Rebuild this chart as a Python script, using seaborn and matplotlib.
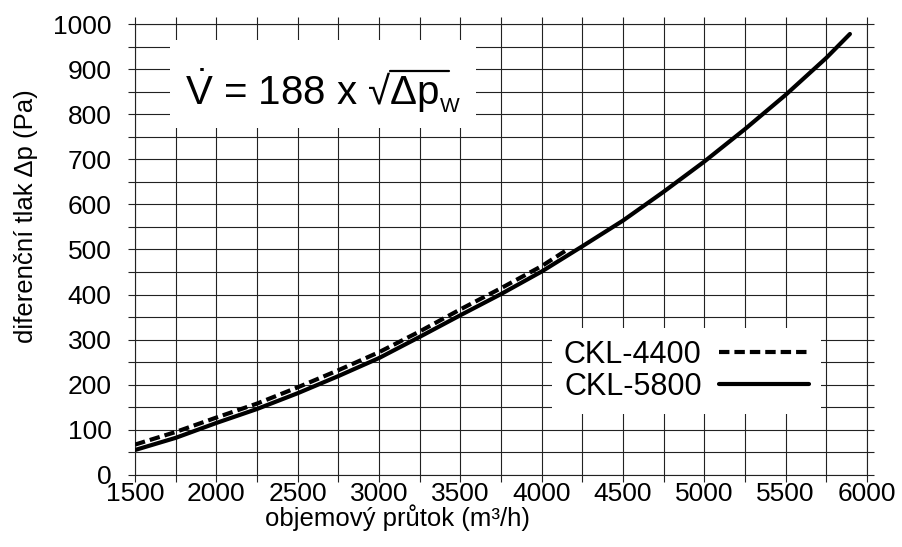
import numpy as np
import pandas as pd
import matplotlib
matplotlib.use("Agg")
import matplotlib.pyplot as plt
import seaborn as sns
from matplotlib.patches import Rectangle
from matplotlib.lines import Line2D
from matplotlib.transforms import IdentityTransform
from matplotlib.ticker import MultipleLocator

# values
flow_5800 = [1500, 1750, 2000, 2250, 2500, 2750, 3000, 3250, 3500, 3750,
             4000, 4250, 4500, 4750, 5000, 5250, 5500, 5750, 5895]
dp_5800 = [55, 82, 115, 146, 181, 219, 259, 306, 354, 401,
           451, 507, 564, 628, 695, 767, 843, 925, 978]

flow_4400 = [1500, 1750, 2000, 2250, 2500, 2750, 3000, 3250, 3500, 3750, 4000, 4155]
dp_4400 = [67, 95, 127, 158, 194, 232, 272, 318, 367, 414, 463, 499]

labels = ["CKL-4400", "CKL-5800"]

sns.set_theme(style="white")
plt.rcParams["font.family"] = ["Liberation Sans", "DejaVu Sans"]
plt.rcParams["mathtext.fontset"] = "custom"
plt.rcParams["mathtext.rm"] = "Liberation Sans"
for k in ["text.color", "axes.labelcolor", "xtick.color", "ytick.color"]:
    plt.rcParams[k] = "black"

fig, ax = plt.subplots(figsize=(9.02, 5.47), dpi=100)
fig.subplots_adjust(left=0.1497, right=0.9612, top=0.956, bottom=0.132)

df44 = pd.DataFrame({"flow": flow_4400, "dp": dp_4400})
df58 = pd.DataFrame({"flow": flow_5800, "dp": dp_5800})

sns.lineplot(data=df44, x="flow", y="dp", ax=ax, color="black", lw=3,
             label=labels[0], zorder=5)
ax.lines[-1].set_dashes((2.5, 1.2))
ax.lines[-1].set_dash_capstyle("butt")
sns.lineplot(data=df58, x="flow", y="dp", ax=ax, color="black", lw=3,
             label=labels[1], zorder=5)

ax.set_xlim(1500, 6000)
ax.set_ylim(0, 1000)
ax.xaxis.set_major_locator(MultipleLocator(500))
ax.xaxis.set_minor_locator(MultipleLocator(250))
ax.yaxis.set_major_locator(MultipleLocator(100))
ax.yaxis.set_minor_locator(MultipleLocator(50))
ax.grid(which="both", color="#222222", lw=0.8, zorder=0)
ax.set_axisbelow(True)
for s in ax.spines.values():
    s.set_color("#222222")
    s.set_linewidth(0.8)
ax.tick_params(which="both", direction="out", length=5, width=0.8,
               color="#222222", top=True, right=True, bottom=True, left=True,
               labeltop=False, labelright=False, labelsize=19)
ax.tick_params(axis="x", pad=0)
ax.tick_params(axis="y", pad=12)

ax.set_xlabel("objemový průtok (m³/h)", fontsize=18.5)
ax.set_ylabel("diferenční tlak Δp (Pa)", fontsize=18.5)
ax.xaxis.set_label_coords(0.359, -0.066)
ax.yaxis.set_label_coords(-0.132, 0.575)

# formula box
ax.add_patch(Rectangle((1715, 770), 1880, 195, facecolor="white",
                       edgecolor="none", zorder=3))
fs = 29
main = ax.text(1805, 820, r"$\dot{\mathrm{V}}$ = 188 x √Δp",
               fontsize=fs, va="baseline", ha="left", zorder=4)
pre = ax.text(1805, 820, r"$\dot{\mathrm{V}}$ = 188 x √",
              fontsize=fs, va="baseline", ha="left", zorder=4, alpha=0)
fig.canvas.draw()
r = fig.canvas.get_renderer()
bb_main = main.get_window_extent(r)
bb_pre = pre.get_window_extent(r)
pre.remove()
base_y = ax.transData.transform((1805, 820))[1]
fs_px = fs * fig.dpi / 72
over_y = base_y + 0.86 * fs_px
fig.add_artist(Line2D([bb_pre.x1 - 1.5, bb_main.x1 + 10], [over_y, over_y],
                      transform=IdentityTransform(), color="black", lw=1.6,
                      zorder=5))
sub_x, sub_y = ax.transData.inverted().transform((bb_main.x1 + 1, base_y - 7))
ax.text(sub_x, sub_y, "W", fontsize=15, va="baseline", ha="left", zorder=4)

leg = ax.legend(loc="upper right", bbox_to_anchor=(0.937, 0.326),
                markerfirst=False, frameon=True, fontsize=22, framealpha=1,
                handlelength=2.92, handletextpad=0.58, labelspacing=0.05,
                borderpad=0.4, borderaxespad=0)
leg.get_frame().set_edgecolor("none")
leg.get_frame().set_facecolor("white")
leg.get_frame().set_boxstyle("square", pad=0)
leg.set_zorder(6)

fig.savefig("out.png", dpi=100)
